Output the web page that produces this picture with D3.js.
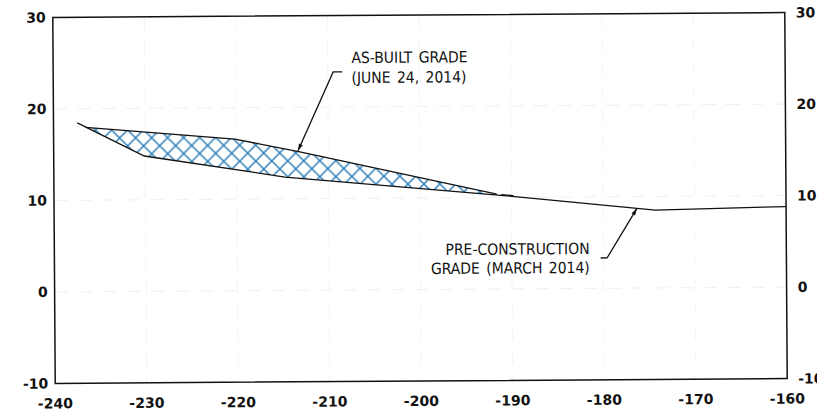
<!DOCTYPE html>
<html>
<head>
<meta charset="utf-8">
<script src="https://cdn.jsdelivr.net/npm/d3@7"></script>
<style>
  html, body { margin: 0; padding: 0; background: #fff; }
  svg { display: block; }
  .tick-label { font-family: "DejaVu Sans", sans-serif; font-weight: bold; font-size: 14px; fill: #111; }
  .note { font-family: "DejaVu Sans Condensed", sans-serif; font-stretch: condensed; font-size: 15.5px; fill: #111; word-spacing: 2px; }
</style>
</head>
<body>
<script>
// Station (ft) and elevation (ft) along the slope section
const xTicks = [-240, -230, -220, -210, -200, -190, -180, -170, -160];
const yTicks = [-10, 0, 10, 20, 30];

// Pre-construction grade (March 2014)
const preStation = [-237.4, -230.1, -214.75, -190.2, -174.3, -160];
const preElev    = [18.45, 14.79, 12.39, 10.15, 8.51, 8.8];

// As-built grade (June 24, 2014)
const asbStation = [-236.5, -220.2, -213.1, -191.6];
const asbElev    = [17.95, 16.58, 15.12, 10.36];

// Callouts
const asbLabel = ["AS-BUILT GRADE", "(JUNE 24, 2014)"];
const preLabel = ["PRE-CONSTRUCTION", "GRADE (MARCH 2014)"];

const W = 817, H = 414;
const svg = d3.select("body").append("svg").attr("width", W).attr("height", H);

const x = d3.scaleLinear().domain([-240, -160]).range([54, 786]);
const y = d3.scaleLinear().domain([-10, 30]).range([381, 15]);

const defs = svg.append("defs");
const pat = defs.append("pattern")
  .attr("id", "xhatch").attr("patternUnits", "userSpaceOnUse")
  .attr("width", 16).attr("height", 16);
pat.append("path").attr("d", "M0,0 L16,16 M16,0 L0,16 M-2,14 L2,18 M14,-2 L18,2 M-2,2 L2,-2 M14,18 L18,14")
  .attr("stroke", "#2f80b9").attr("stroke-width", 1.5).attr("fill", "none");

defs.append("marker").attr("id", "arrow").attr("viewBox", "0 0 10 10")
  .attr("refX", 10).attr("refY", 5).attr("markerWidth", 11).attr("markerHeight", 7)
  .attr("markerUnits", "userSpaceOnUse").attr("orient", "auto")
  .append("path").attr("d", "M0,2 L10,5 L0,8 Z").attr("fill", "#111");

// whole sheet is slightly skewed on the page
const g = svg.append("g").attr("transform", "rotate(-0.38, 420, 198)");

// faint grid
g.append("g").selectAll("line").data(yTicks.slice(1, -1)).join("line")
  .attr("x1", x(-240)).attr("x2", x(-160))
  .attr("y1", d => y(d)).attr("y2", d => y(d))
  .attr("stroke", "#f0f0f0").attr("stroke-dasharray", "14,10");
g.append("g").selectAll("line").data(xTicks.slice(1, -1)).join("line")
  .attr("x1", d => x(d)).attr("x2", d => x(d))
  .attr("y1", y(30)).attr("y2", y(-10))
  .attr("stroke", "#f4f4f4").attr("stroke-dasharray", "14,10");

const pre = preStation.map((s, i) => [s, preElev[i]]);
const asb = asbStation.map((s, i) => [s, asbElev[i]]);

// fill between as-built and pre-construction
const endS = asbStation[asbStation.length - 1];
function preAt(s) {
  for (let i = 0; i < pre.length - 1; i++) {
    if (s >= pre[i][0] && s <= pre[i + 1][0]) {
      const t = (s - pre[i][0]) / (pre[i + 1][0] - pre[i][0]);
      return pre[i][1] + t * (pre[i + 1][1] - pre[i][1]);
    }
  }
  return pre[0][1];
}
const lowerPart = [[endS, preAt(endS)]].concat(pre.filter(p => p[0] > asbStation[0] && p[0] < endS).reverse());
const poly = asb.concat(lowerPart);
const line = d3.line().x(d => x(d[0])).y(d => y(d[1]));
g.append("path").attr("d", line(poly) + "Z").attr("fill", "url(#xhatch)").attr("stroke", "none");

g.append("path").attr("d", line(pre)).attr("fill", "none").attr("stroke", "#111").attr("stroke-width", 1.3);
g.append("path").attr("d", line(asb)).attr("fill", "none").attr("stroke", "#111").attr("stroke-width", 1.3);
// tail of as-built line as a short dash
g.append("path").attr("d", line([[-191.1, 10.3], [-189.8, 10.2]]))
  .attr("fill", "none").attr("stroke", "#111").attr("stroke-width", 1.3);

// frame
g.append("rect").attr("x", x(-240)).attr("y", y(30))
  .attr("width", x(-160) - x(-240)).attr("height", y(-10) - y(30))
  .attr("fill", "none").attr("stroke", "#111").attr("stroke-width", 1.5);

// tick labels (the right-hand -10 runs off the sheet edge)
g.append("g").selectAll("text").data(yTicks).join("text").attr("class", "tick-label")
  .attr("x", x(-240) - 7).attr("y", d => y(d)).attr("dy", "0.36em").attr("text-anchor", "end")
  .text(d => d);
g.append("g").selectAll("text").data(yTicks).join("text").attr("class", "tick-label")
  .attr("x", x(-160) + 11).attr("y", d => y(d)).attr("dy", "0.36em").attr("text-anchor", "start")
  .text(d => d);
g.append("g").selectAll("text").data(xTicks).join("text").attr("class", "tick-label")
  .attr("x", d => x(d)).attr("y", y(-10) + 25).attr("text-anchor", "middle")
  .text(d => d);

// callouts
function leader(pts) {
  g.append("path").attr("d", line(pts)).attr("fill", "none")
    .attr("stroke", "#111").attr("stroke-width", 1.3).attr("marker-end", "url(#arrow)");
}
leader([[-208.4, 23.84], [-209.4, 23.84], [-213.3, 15.25]]);
leader([[-180.3, 3.31], [-179.6, 3.31], [-176.3, 8.7]]);

g.append("g").selectAll("text").data(asbLabel).join("text").attr("class", "note")
  .attr("x", x(-207.4)).attr("y", (d, i) => y(24.8) + i * 20).text(d => d);
g.append("g").selectAll("text").data(preLabel).join("text").attr("class", "note")
  .attr("x", x(-181.5)).attr("y", (d, i) => y(3.76) + i * 19).attr("text-anchor", "end").text(d => d);
</script>
</body>
</html>
